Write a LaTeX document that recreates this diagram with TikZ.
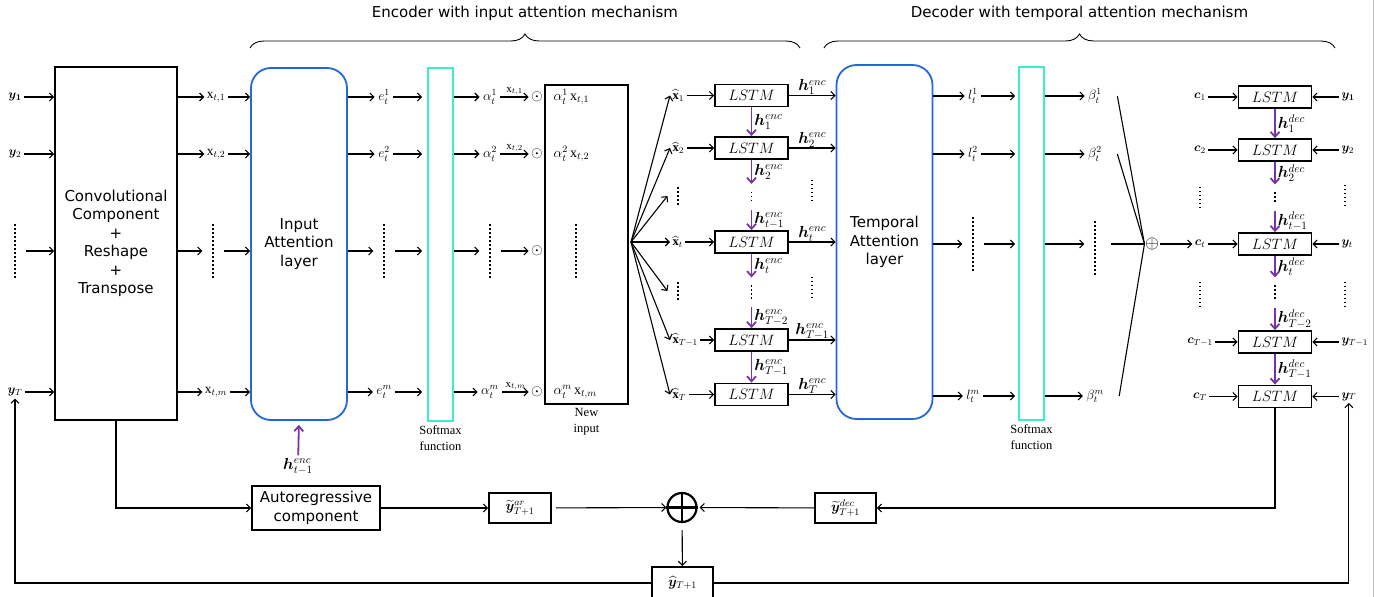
\RequirePackage{fix-cm}
\documentclass[tikz,border=0pt]{standalone}
\usepackage{amsmath,amssymb}
\usepackage{bm}
\usepackage{fontspec}
\setmainfont{Liberation Serif}
\newfontfamily\boxfont{DejaVu Sans}
\usetikzlibrary{arrows.meta,positioning,calc,decorations.pathreplacing}
\definecolor{attBlue}{HTML}{2468D8}
\definecolor{smxGreen}{HTML}{3DEEC6}
\definecolor{hidPurple}{HTML}{7436A6}
\newcommand{\hh}[2]{\bm{h}^{#1}_{#2}}

\begin{document}
\begin{tikzpicture}[x=1pt,y=-1pt,line width=1.1pt,>={Straight Barb[length=4pt,width=8pt]},
  sanstxt/.style={font=\boxfont\fontsize{15}{18.5}\selectfont,align=center},
  blk/.style={draw,line width=1.8pt,inner sep=0pt},
  att/.style={draw=attBlue,line width=1.8pt,rounded corners=20pt,minimum width=96pt,sanstxt},
  smx/.style={draw=smxGreen,line width=1.8pt,minimum width=25pt,minimum height=353pt},
  lstm/.style={blk,minimum width=73pt,minimum height=22pt,font=\fontsize{15}{15}\selectfont},
  lab/.style={font=\fontsize{13.5}{15}\selectfont,inner sep=3pt},
  hl/.style={font=\fontsize{16}{17}\selectfont,inner sep=2pt},
  sml/.style={font=\fontsize{12.5}{14}\selectfont,inner sep=2pt},
  odt/.style={font=\fontsize{15}{15}\selectfont,inner sep=2pt},
  vd/.style={minimum width=20pt,minimum height=#1,inner sep=0pt},
  vd/.default=52pt,
  dotl/.style={line width=1.3pt,dash pattern=on 1.2pt off 2.8pt},
  hid/.style={draw=hidPurple,line width=1.8pt,-{Straight Barb[length=5pt,width=9pt]}},
  capt/.style={font=\fontsize{12.5}{16}\selectfont,align=center},
  brc/.style={decorate,decoration={brace,amplitude=14pt},line width=0.9pt}]
  \useasboundingbox (0,0) rectangle (1390,597);
  \draw[black!25,line width=1pt] (1373,0) -- (1373,597);

  \draw[brc] (250,48) -- (800,48) node[midway,above=24pt,sanstxt] {Encoder with input attention mechanism};
  \draw[brc] (824,48) -- (1335,48) node[midway,above=24pt,sanstxt] {Decoder with temporal attention mechanism};

  \node[blk,sanstxt,minimum width=122pt,minimum height=353pt] (conv) at (116,243.5) {Convolutional\\Component\\+\\Reshape\\+\\Transpose};
  \node[att,minimum height=352pt] (ia) at (299,244) {Input\\Attention\\layer};
  \node[smx] (sm1) at (440.5,244.5) {};
  \node[capt,below=0pt of sm1] {Softmax\\function};
  \node[blk,minimum width=83pt,minimum height=319pt] (ni) at (586.5,244.5) {};
  \node[capt,below=0pt of ni] {New\\input};
  \node[att,minimum height=354pt] (ta) at (884.5,242) {Temporal\\Attention\\layer};
  \node[smx] (sm2) at (1031.5,243.5) {};
  \node[capt,below=0pt of sm2] {Softmax\\function};

  \foreach \rw/\yy/\ylab/\xsub/\esup in {1/97/{\bm{y_1}}/{t,1}/1, 2/154/{\bm{y}_2}/{t,2}/2, m/392/{\bm{y}_T}/{t,m}/m} {
    \node[sml] (yi\rw) at (15,\yy) {$\ylab$};
    \node[sml,font=\fontsize{13.5}{15}\selectfont] (xi\rw) at (216,\yy) {$\mathrm{x}_{\xsub}$};
    \node[lab] (e\rw) at (384,\yy) {$e_t^{\esup}$};
    \node[lab] (al\rw) at (490,\yy) {$\alpha_t^{\esup}$};
    \node[odt] (od\rw) at (537,\yy) {$\odot$};
    \node[lab,font=\fontsize{14}{15}\selectfont,anchor=west] (nt\rw) at (550,\yy) {$\alpha_t^{\esup}\,\mathrm{x}_{\xsub}$};
    \draw[->] (yi\rw) -- (yi\rw -| conv.west);
    \draw[->] (conv.east |- xi\rw) -- (xi\rw);
    \draw[->] (xi\rw) -- (xi\rw -| ia.west);
    \draw[->] (ia.east |- e\rw) -- (e\rw);
    \draw[->,shorten >=5pt] (e\rw) -- (e\rw -| sm1.west);
    \draw[->] (sm1.east |- al\rw) -- (al\rw);
    \draw[->] (al\rw) -- node[above,font=\fontsize{11}{12}\selectfont,inner sep=1pt] {$\mathrm{x}_{\xsub}$} (od\rw);
  }
  \node[vd] (yid) at (15,251) {};
  \node[vd] (xid) at (213,251) {};
  \node[vd] (ed) at (384,251) {};
  \node[vd] (ald) at (490,251) {};
  \node[odt] (odd) at (537,251) {$\odot$};
  \node[vd] (ntd) at (576,251) {};
  \draw[->] (yid) -- (yid -| conv.west);
  \draw[->] (conv.east |- xid) -- (xid);
  \draw[->] (xid) -- (xid -| ia.west);
  \draw[->] (ia.east |- ed) -- (ed);
  \draw[->,shorten >=5pt] (ed) -- (ed -| sm1.west);
  \draw[->] (sm1.east |- ald) -- (ald);
  \draw[->] (ald) -- (odd);

  \node[hl] (hprev) at (298,466) {$\hh{enc}{t-1}$};
  \draw[hid,shorten >=4pt] (hprev) -- (ia.south);

  \coordinate (fan) at (631,242);
  \foreach \rw/\yy/\xsub in {1/95.5/1, 2/148/2, t/242/t, p/340/{T-1}, T/394.5/T} {
    \node[lstm] (le\rw) at (751.5,\yy) {$LSTM$};
    \node[sml,anchor=west] (xh\rw) at (670,\yy) {$\widehat{\mathbf{x}}_{\xsub}$};
    \draw[->] (fan) -- (xh\rw.west);
    \draw[->] (xh\rw) -- (le\rw);
    \draw[->] (le\rw) -- node[above,hl,inner sep=0pt] {$\hh{enc}{\xsub}$} (le\rw -| ta.west);
  }
  \node[vd=20pt] (fd1) at (678,196) {};
  \node[vd=20pt] (fd2) at (678,291) {};
  \draw[->] (fan) -- (fd1.west);
  \draw[->] (fan) -- (fd2.west);

  \node[vd=25pt] (ed1) at (751.5,197) {};
  \node[vd=28pt] (ed2) at (751.5,292) {};
  \draw[hid] (le1) -- node[right,hl] {$\hh{enc}{1}$} (le2);
  \draw[hid] (le2) -- node[right,hl] {$\hh{enc}{2}$} (ed1);
  \draw[hid] (ed1) -- node[right,hl] {$\hh{enc}{t-1}$} (let);
  \draw[hid] (let) -- node[right,hl] {$\hh{enc}{t}$} (ed2);
  \draw[hid] (ed2) -- node[right,hl] {$\hh{enc}{T-2}$} (lep);
  \draw[hid] (lep) -- node[right,hl] {$\hh{enc}{T-1}$} (leT);

  \foreach \rw/\yy/\esup in {1/96/1, 2/154/2, m/396/m} {
    \node[lab] (l\rw) at (973,\yy) {$l_t^{\esup}$};
    \node[lab] (b\rw) at (1095,\yy) {$\beta_t^{\esup}$};
    \draw[->] (ta.east |- l\rw) -- (l\rw);
    \draw[->,shorten >=3pt] (l\rw) -- (l\rw -| sm2.west);
    \draw[->] (sm2.east |- b\rw) -- (b\rw);
  }
  \node[vd] (ld) at (973,244) {};
  \node[vd] (bd) at (1095,248) {};
  \draw[->] (ta.east |- ld) -- (ld);
  \draw[->,shorten >=3pt] (ld) -- (ld -| sm2.west);
  \draw[->] (sm2.east |- ld) -- (ld -| bd.west);

  \node[font=\fontsize{18}{18}\selectfont,inner sep=0pt] (csum) at (1152,244) {$\oplus$};
  \foreach \bb in {b1,b2,bm} \draw ($(\bb.east)+(12,0)$) -- (csum.west);
  \draw ($(bd.east |- csum)+(5,0)$) -- (csum.west);

  \foreach \rw/\yy/\clab/\ylab in {1/97/{\bm{c}_1}/{\bm{y_1}}, 2/150/{\bm{c}_2}/{\bm{y}_2}, t/244/{\bm{c}_t}/{\bm{y}_t}, p/342/{\bm{c}_{T-1}}/{\bm{y}_{T-1}}, T/396.5/{\bm{c}_T}/{\bm{y}_T}} {
    \node[lstm] (ld\rw) at (1275,\yy) {$LSTM$};
    \node[sml] (c\rw) at (1200,\yy) {$\clab$};
    \node[sml,anchor=west] (yo\rw) at (1339,\yy) {$\ylab$};
    \draw[->] (c\rw) -- (ld\rw);
    \draw[->] (yo\rw) -- (ld\rw);
  }
  \draw[->] (csum) -- (ct);
  \node[vd=25pt] (dd1) at (1275,197.5) {};
  \node[vd=29pt] (dd2) at (1275,292.5) {};
  \draw[hid] (ld1) -- node[right,hl] {$\hh{dec}{1}$} (ld2);
  \draw[hid] (ld2) -- node[right,hl] {$\hh{dec}{2}$} (dd1);
  \draw[hid] (dd1) -- node[right,hl] {$\hh{dec}{t-1}$} (ldt);
  \draw[hid] (ldt) -- node[right,hl] {$\hh{dec}{t}$} (dd2);
  \draw[hid] (dd2) -- node[right,hl] {$\hh{dec}{T-2}$} (ldp);
  \draw[hid] (ldp) -- node[right,hl] {$\hh{dec}{T-1}$} (ldT);

  \foreach \dd in {yid,xid,ed,ald,ntd,ld,bd} \draw[dotl] (\dd.north) -- (\dd.south);
  \foreach \dd in {fd1,fd2} \draw[dotl,shorten <=2pt,shorten >=2pt] (\dd.north) -- (\dd.south);
  \foreach \dd in {ed1,ed2,dd1,dd2} \draw[dotl,shorten <=8pt,shorten >=8pt] (\dd.north) -- (\dd.south);
  \foreach \x/\ya/\yb in {812/180/203, 812/277/300, 1200/187/210, 1200/282/308, 1345/185/208, 1345/282/308}
    \draw[dotl] (\x,\ya) -- (\x,\yb);

  \node[blk,sanstxt,minimum width=128pt,minimum height=44pt] (ar) at (316,508) {Autoregressive\\component};
  \node[blk,minimum width=62pt,minimum height=30pt,font=\fontsize{14}{15}\selectfont] (yar) at (520,508) {$\widetilde{\bm{y}}^{ar}_{T+1}$};
  \node[draw,circle,line width=2.2pt,minimum size=29pt] (sumb) at (682,507.5) {};
  \draw[line width=2.2pt] (sumb.north) -- (sumb.south) (sumb.west) -- (sumb.east);
  \node[blk,minimum width=61pt,minimum height=30pt,font=\fontsize{14}{15}\selectfont] (ydec) at (845.5,508) {$\widetilde{\bm{y}}^{dec}_{T+1}$};
  \node[blk,minimum width=61pt,minimum height=32pt,font=\fontsize{14}{15}\selectfont] (yhat) at (682.5,583) {$\widehat{\bm{y}}_{T+1}$};
  \draw[->] (conv.south) |- (ar.west);
  \draw[->] (ar) -- (yar);
  \draw[->,shorten <=4pt] (yar) -- (sumb);
  \draw[->,shorten >=2pt] (ydec) -- (sumb);
  \draw[->] (ldT.south) |- (ydec.east);
  \draw[->,shorten <=7pt] (sumb) -- (yhat);
  \draw[->] (yhat.west) -| (yim.south);
  \draw[->] (yhat.east) -| (yoT.south);
\end{tikzpicture}
\end{document}
